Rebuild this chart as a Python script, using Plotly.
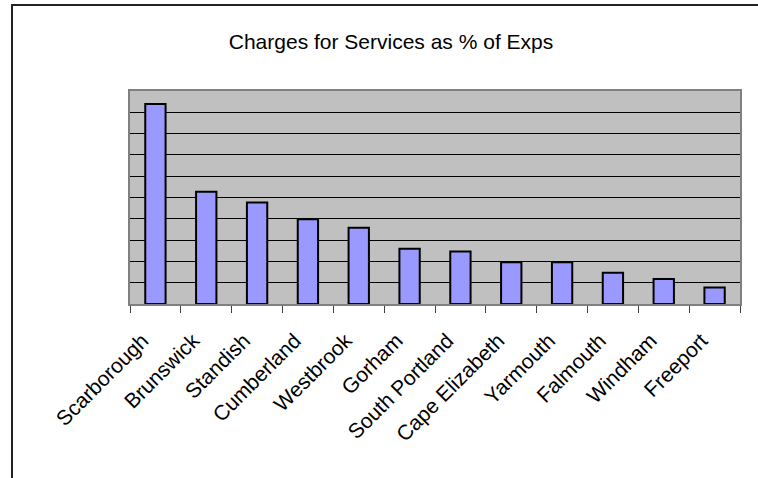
import plotly.graph_objects as go

towns = ["Scarborough", "Brunswick", "Standish", "Cumberland", "Westbrook", "Gorham",
         "South Portland", "Cape Elizabeth", "Yarmouth", "Falmouth", "Windham", "Freeport"]
charges_pct = [9.39, 5.27, 4.77, 3.98, 3.58, 2.59, 2.46, 1.96, 1.96, 1.47, 1.17, 0.77]

W, H = 758, 478
L, R, T, B = 130, 18, 91, 174

fig = go.Figure(go.Bar(
    x=towns, y=charges_pct,
    marker=dict(color="#9999FF", line=dict(color="black", width=2)),
))

def px_to_paper_x(px):
    return (px - L) / (W - L - R)

def px_to_paper_y(py):
    return (H - B - py) / (H - T - B)

fig.update_layout(
    width=W, height=H,
    margin=dict(l=L, r=R, t=T, b=B),
    paper_bgcolor="white",
    plot_bgcolor="#C0C0C0",
    bargap=0.6,
    showlegend=False,
    font=dict(family="Liberation Sans, Arial, sans-serif", color="black"),
    title=dict(text="Charges for Services as % of Exps", x=391 / W, xref="container",
               xanchor="center", y=1 - 42 / H, yref="container", yanchor="middle",
               font=dict(size=21, family="Liberation Sans, Arial, sans-serif", color="black")),
    shapes=[
        dict(type="rect", xref="paper", yref="paper", layer="below",
             x0=px_to_paper_x(12), x1=px_to_paper_x(900), y0=px_to_paper_y(5), y1=px_to_paper_y(700),
             line=dict(color="#222222", width=2), fillcolor="rgba(0,0,0,0)"),
    ],
)

fig.update_xaxes(
    type="category", tickangle=-45, tickson="boundaries",
    ticks="outside", ticklen=7, tickcolor="#404040", tickwidth=1,
    showline=True, linecolor="#808080", linewidth=2, mirror=True,
    showgrid=False, ticklabelstandoff=14, ticklabelshift=-13,
    tickfont=dict(size=21, family="Liberation Sans, Arial, sans-serif", color="black"),
)
fig.update_yaxes(
    range=[0, 10], dtick=1, showticklabels=False, ticks="",
    showgrid=True, gridcolor="black", gridwidth=1, zeroline=False,
    showline=True, linecolor="#808080", linewidth=2, mirror=True,
)

fig.write_html("out.html", config={"displayModeBar": False},
               post_script="document.body.style.margin='0';document.body.style.overflow='hidden';")
